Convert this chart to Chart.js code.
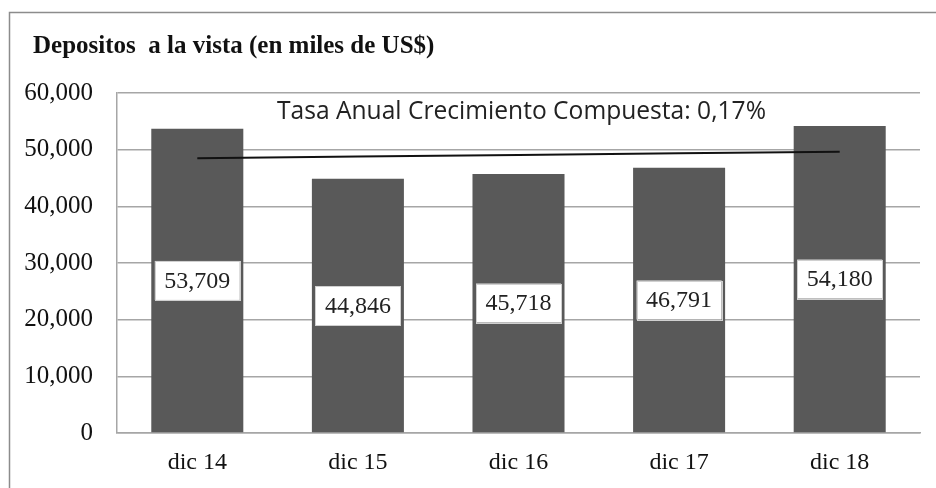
<!DOCTYPE html>
<html lang="es">
<head>
  <meta charset="UTF-8">
  <title>Depositos a la vista</title>
  <style>
    body { margin: 0; background: #fff; }
    #wrap { width: 936px; height: 488px; }
  </style>
</head>
<body>
  <div id="wrap">
    <canvas id="myChart" width="936" height="488"></canvas>
  </div>

<script src="https://cdn.jsdelivr.net/npm/chart.js"></script>
<script>
  const labels = ['dic 14', 'dic 15', 'dic 16', 'dic 17', 'dic 18'];
  const depositos = [53709, 44846, 45718, 46791, 54180];
  // linea de tendencia
  const tendencia = [48500, 48800, 49050, 49350, 49650];
  const yTicks = [0, 10000, 20000, 30000, 40000, 50000, 60000];
  const titulo = 'Depositos  a la vista (en miles de US$)';
  const nota = 'Tasa Anual Crecimiento Compuesta: 0,17%';

  const serif = '"Liberation Serif", "Times New Roman", serif';

  const fmt = v => v.toLocaleString('en-US');

  // marco exterior y titulo
  const frame = {
    id: 'frame',
    beforeDraw(chart) {
      const c = chart.ctx;
      c.save();
      c.strokeStyle = '#8c8c8c';
      c.lineWidth = 1.5;
      c.strokeRect(9.5, 12.5, 1000, 600);
      c.font = 'bold 25px ' + serif;
      c.fillStyle = '#111';
      c.textAlign = 'left';
      c.textBaseline = 'middle';
      c.fillText(titulo, 33, 47);
      c.restore();
    }
  };

  // etiquetas de valor en cajas blancas + texto de la tasa
  const labelsPlugin = {
    id: 'valueBoxes',
    afterDraw(chart) {
      const c = chart.ctx;
      const meta = chart.getDatasetMeta(1);
      c.save();
      c.font = '24px ' + serif;
      c.textAlign = 'center';
      c.textBaseline = 'middle';
      meta.data.forEach((bar, i) => {
        const cy = (bar.y + bar.base) / 2;
        const w = 85, h = 39;
        c.fillStyle = '#fff';
        c.fillRect(bar.x - w / 2, cy - h / 2, w, h);
        c.strokeStyle = '#d0d0d0';
        c.lineWidth = 1;
        c.strokeRect(Math.round(bar.x - w / 2) + 0.5, Math.round(cy - h / 2) + 0.5, w, h);
        c.fillStyle = '#222';
        c.fillText(fmt(depositos[i]), bar.x, cy + 1);
      });
      const a = chart.chartArea;
      c.font = '24.6px "Open Sans", sans-serif';
      c.fillStyle = '#222';
      c.fillText(nota, (a.left + a.right) / 2 + 3, a.top + 19);
      c.restore();
    }
  };

  const ctx = document.getElementById('myChart');
  const myChart = new Chart(ctx, {
    type: 'bar',
    data: {
      labels: labels,
      datasets: [
        {
          type: 'line',
          data: tendencia,
          borderColor: '#111',
          borderWidth: 2,
          pointRadius: 0,
          fill: false,
          order: 0
        },
        {
          data: depositos,
          backgroundColor: '#595959',
          borderWidth: 0,
          barPercentage: 0.573,
          categoryPercentage: 1,
          order: 1
        }
      ]
    },
    options: {
      responsive: false,
      animation: false,
      layout: { padding: { left: 0, right: 16, top: 93, bottom: 11 } },
      plugins: {
        legend: { display: false },
        tooltip: { enabled: false },
        title: { display: false }
      },
      scales: {
        x: {
          afterFit(scale) { scale.height = 44; },
          grid: { display: false, drawTicks: false },
          border: { display: true, color: '#a6a6a6', width: 1.5 },
          ticks: { color: '#111', padding: 15, font: { family: serif, size: 24 } }
        },
        y: {
          min: 0,
          max: 60000,
          afterBuildTicks(scale) {
            scale.ticks = yTicks.map(v => ({ value: v }));
          },
          afterFit(scale) { scale.width = 117; },
          grid: { color: '#a6a6a6', lineWidth: 1.5, drawTicks: false },
          border: { display: true, color: '#a6a6a6', width: 1.5 },
          ticks: {
            color: '#111',
            padding: 24,
            font: { family: serif, size: 25 },
            callback: v => fmt(v)
          }
        }
      }
    },
    plugins: [frame, labelsPlugin]
  });
</script>
</body>
</html>
